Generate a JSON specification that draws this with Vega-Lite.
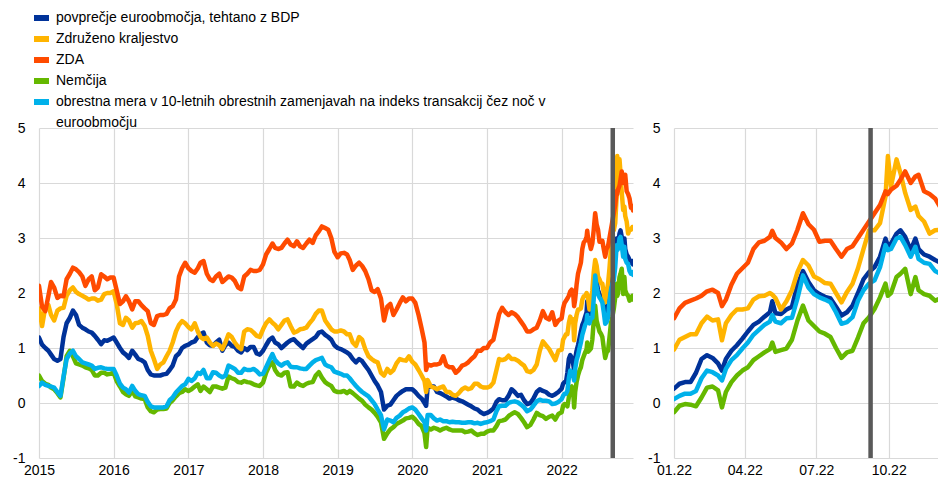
{
  "$schema": "https://vega.github.io/schema/vega-lite/v6.json",
  "background": "white",
  "padding": {"left": 12, "top": 10, "right": 0, "bottom": 0},
  "spacing": 14,
  "config": {
    "view": {"stroke": null},
    "font": "Liberation Sans",
    "axis": {"domain": false, "ticks": false, "grid": true, "gridColor": "#d9d9d9", "gridWidth": 1.2, "labelFont": "Liberation Sans", "labelFontSize": 14, "labelColor": "#000000", "title": null, "labelFlush": false},
    "axisX": {"labelPadding": 5},
    "axisY": {"labelPadding": 14},
    "legend": {"labelFont": "Liberation Sans", "labelFontSize": 14, "labelColor": "#000000"}
  },
  "datasets": {
    "rates": [
      {"d":"2015-01-01","a":1.19,"b":1.72,"c":2.13,"g":0.5,"s":0.31},
      {"d":"2015-01-16","a":1.06,"b":1.4,"c":1.75,"g":0.4,"s":0.37},
      {"d":"2015-02-01","a":1.0,"b":1.75,"c":1.67,"g":0.35,"s":0.33},
      {"d":"2015-02-16","a":0.95,"b":1.78,"c":1.95,"g":0.33,"s":0.31},
      {"d":"2015-03-01","a":0.88,"b":1.6,"c":2.2,"g":0.28,"s":0.3},
      {"d":"2015-03-16","a":0.8,"b":1.5,"c":2.1,"g":0.25,"s":0.28},
      {"d":"2015-04-01","a":0.77,"b":1.68,"c":1.91,"g":0.18,"s":0.2},
      {"d":"2015-04-16","a":0.8,"b":1.72,"c":1.95,"g":0.1,"s":0.13},
      {"d":"2015-05-01","a":1.2,"b":1.73,"c":1.94,"g":0.45,"s":0.48},
      {"d":"2015-05-16","a":1.45,"b":1.95,"c":2.25,"g":0.85,"s":0.8},
      {"d":"2015-06-01","a":1.55,"b":2.05,"c":2.35,"g":0.95,"s":0.9},
      {"d":"2015-06-16","a":1.68,"b":2.1,"c":2.46,"g":0.85,"s":0.95},
      {"d":"2015-07-01","a":1.6,"b":2.02,"c":2.43,"g":0.72,"s":0.85},
      {"d":"2015-07-16","a":1.42,"b":1.98,"c":2.38,"g":0.7,"s":0.8},
      {"d":"2015-08-01","a":1.37,"b":1.95,"c":2.3,"g":0.68,"s":0.74},
      {"d":"2015-08-16","a":1.34,"b":1.92,"c":2.13,"g":0.65,"s":0.72},
      {"d":"2015-09-01","a":1.3,"b":1.88,"c":2.25,"g":0.63,"s":0.7},
      {"d":"2015-09-16","a":1.28,"b":1.9,"c":2.3,"g":0.6,"s":0.68},
      {"d":"2015-10-01","a":1.22,"b":1.9,"c":2.05,"g":0.5,"s":0.62},
      {"d":"2015-10-16","a":1.15,"b":1.86,"c":2.1,"g":0.5,"s":0.64},
      {"d":"2015-11-01","a":1.07,"b":1.88,"c":2.34,"g":0.55,"s":0.65},
      {"d":"2015-11-16","a":1.14,"b":1.98,"c":2.3,"g":0.55,"s":0.63},
      {"d":"2015-12-01","a":1.13,"b":2.0,"c":2.25,"g":0.52,"s":0.62},
      {"d":"2015-12-16","a":1.16,"b":2.0,"c":2.28,"g":0.53,"s":0.62},
      {"d":"2016-01-01","a":1.19,"b":2.03,"c":2.28,"g":0.55,"s":0.62},
      {"d":"2016-01-16","a":1.1,"b":1.8,"c":2.05,"g":0.4,"s":0.5},
      {"d":"2016-02-01","a":1.0,"b":1.45,"c":1.8,"g":0.3,"s":0.35},
      {"d":"2016-02-16","a":0.92,"b":1.42,"c":1.85,"g":0.2,"s":0.28},
      {"d":"2016-03-01","a":0.88,"b":1.55,"c":1.94,"g":0.16,"s":0.25},
      {"d":"2016-03-16","a":0.82,"b":1.5,"c":1.85,"g":0.13,"s":0.19},
      {"d":"2016-04-01","a":0.95,"b":1.37,"c":1.7,"g":0.22,"s":0.31},
      {"d":"2016-04-16","a":0.88,"b":1.45,"c":1.85,"g":0.12,"s":0.22},
      {"d":"2016-05-01","a":0.8,"b":1.46,"c":1.85,"g":0.1,"s":0.16},
      {"d":"2016-05-16","a":0.78,"b":1.49,"c":1.78,"g":0.08,"s":0.14},
      {"d":"2016-06-01","a":0.74,"b":1.4,"c":1.72,"g":0.07,"s":0.13},
      {"d":"2016-06-16","a":0.6,"b":1.22,"c":1.67,"g":-0.08,"s":0.02},
      {"d":"2016-07-01","a":0.52,"b":0.95,"c":1.45,"g":-0.15,"s":-0.06},
      {"d":"2016-07-16","a":0.5,"b":0.8,"c":1.42,"g":-0.17,"s":-0.08},
      {"d":"2016-08-01","a":0.5,"b":0.62,"c":1.58,"g":-0.12,"s":-0.08},
      {"d":"2016-08-16","a":0.5,"b":0.7,"c":1.6,"g":-0.11,"s":-0.08},
      {"d":"2016-09-01","a":0.52,"b":0.74,"c":1.6,"g":-0.11,"s":-0.08},
      {"d":"2016-09-16","a":0.53,"b":0.85,"c":1.62,"g":-0.1,"s":-0.06},
      {"d":"2016-10-01","a":0.6,"b":0.95,"c":1.72,"g":0.0,"s":0.05},
      {"d":"2016-10-16","a":0.68,"b":1.1,"c":1.76,"g":0.05,"s":0.1},
      {"d":"2016-11-01","a":0.85,"b":1.3,"c":1.88,"g":0.12,"s":0.19},
      {"d":"2016-11-16","a":0.9,"b":1.42,"c":2.3,"g":0.18,"s":0.25},
      {"d":"2016-12-01","a":1.0,"b":1.49,"c":2.45,"g":0.2,"s":0.31},
      {"d":"2016-12-16","a":1.04,"b":1.45,"c":2.55,"g":0.25,"s":0.34},
      {"d":"2017-01-01","a":1.06,"b":1.38,"c":2.45,"g":0.22,"s":0.44},
      {"d":"2017-01-16","a":1.1,"b":1.34,"c":2.4,"g":0.25,"s":0.4},
      {"d":"2017-02-01","a":1.12,"b":1.45,"c":2.37,"g":0.3,"s":0.45},
      {"d":"2017-02-16","a":1.2,"b":1.3,"c":2.45,"g":0.34,"s":0.55},
      {"d":"2017-03-01","a":1.25,"b":1.2,"c":2.55,"g":0.22,"s":0.53},
      {"d":"2017-03-16","a":1.28,"b":1.16,"c":2.58,"g":0.3,"s":0.6},
      {"d":"2017-04-01","a":1.1,"b":1.19,"c":2.35,"g":0.25,"s":0.45},
      {"d":"2017-04-16","a":1.05,"b":1.1,"c":2.25,"g":0.2,"s":0.45},
      {"d":"2017-05-01","a":1.04,"b":1.04,"c":2.22,"g":0.3,"s":0.56},
      {"d":"2017-05-16","a":1.1,"b":1.08,"c":2.3,"g":0.3,"s":0.55},
      {"d":"2017-06-01","a":1.15,"b":1.05,"c":2.35,"g":0.28,"s":0.5},
      {"d":"2017-06-16","a":0.95,"b":0.98,"c":2.2,"g":0.26,"s":0.47},
      {"d":"2017-07-01","a":1.05,"b":1.1,"c":2.25,"g":0.28,"s":0.5},
      {"d":"2017-07-16","a":1.1,"b":1.25,"c":2.3,"g":0.48,"s":0.68},
      {"d":"2017-08-01","a":1.04,"b":1.2,"c":2.28,"g":0.45,"s":0.65},
      {"d":"2017-08-16","a":1.02,"b":1.1,"c":2.22,"g":0.43,"s":0.62},
      {"d":"2017-09-01","a":0.95,"b":1.02,"c":2.1,"g":0.38,"s":0.55},
      {"d":"2017-09-16","a":0.92,"b":0.98,"c":2.07,"g":0.37,"s":0.55},
      {"d":"2017-10-01","a":1.0,"b":1.3,"c":2.3,"g":0.4,"s":0.62},
      {"d":"2017-10-16","a":0.96,"b":1.34,"c":2.35,"g":0.38,"s":0.6},
      {"d":"2017-11-01","a":1.02,"b":1.33,"c":2.42,"g":0.37,"s":0.6},
      {"d":"2017-11-16","a":1.02,"b":1.28,"c":2.4,"g":0.34,"s":0.62},
      {"d":"2017-12-01","a":0.9,"b":1.22,"c":2.4,"g":0.32,"s":0.58},
      {"d":"2017-12-16","a":0.88,"b":1.2,"c":2.42,"g":0.31,"s":0.52},
      {"d":"2018-01-01","a":0.95,"b":1.34,"c":2.52,"g":0.37,"s":0.53},
      {"d":"2018-01-16","a":1.05,"b":1.45,"c":2.7,"g":0.55,"s":0.65},
      {"d":"2018-02-01","a":1.15,"b":1.52,"c":2.8,"g":0.68,"s":0.78},
      {"d":"2018-02-16","a":1.19,"b":1.46,"c":2.9,"g":0.74,"s":0.89},
      {"d":"2018-03-01","a":1.1,"b":1.42,"c":2.82,"g":0.6,"s":0.78},
      {"d":"2018-03-16","a":1.07,"b":1.34,"c":2.8,"g":0.52,"s":0.72},
      {"d":"2018-04-01","a":1.0,"b":1.42,"c":2.82,"g":0.5,"s":0.68},
      {"d":"2018-04-16","a":1.05,"b":1.5,"c":2.9,"g":0.55,"s":0.72},
      {"d":"2018-05-01","a":1.1,"b":1.52,"c":2.97,"g":0.56,"s":0.74},
      {"d":"2018-05-16","a":1.14,"b":1.4,"c":2.88,"g":0.3,"s":0.66},
      {"d":"2018-06-01","a":1.16,"b":1.28,"c":2.85,"g":0.3,"s":0.65},
      {"d":"2018-06-16","a":1.1,"b":1.3,"c":2.94,"g":0.37,"s":0.65},
      {"d":"2018-07-01","a":1.05,"b":1.34,"c":2.85,"g":0.33,"s":0.63},
      {"d":"2018-07-16","a":1.0,"b":1.35,"c":2.82,"g":0.31,"s":0.62},
      {"d":"2018-08-01","a":1.08,"b":1.37,"c":2.9,"g":0.35,"s":0.62},
      {"d":"2018-08-16","a":1.12,"b":1.45,"c":2.97,"g":0.37,"s":0.68},
      {"d":"2018-09-01","a":1.16,"b":1.52,"c":2.91,"g":0.38,"s":0.74},
      {"d":"2018-09-16","a":1.2,"b":1.62,"c":3.05,"g":0.5,"s":0.78},
      {"d":"2018-10-01","a":1.28,"b":1.68,"c":3.12,"g":0.56,"s":0.8},
      {"d":"2018-10-16","a":1.3,"b":1.68,"c":3.21,"g":0.46,"s":0.82},
      {"d":"2018-11-01","a":1.24,"b":1.5,"c":3.18,"g":0.38,"s":0.7},
      {"d":"2018-11-16","a":1.2,"b":1.42,"c":3.15,"g":0.34,"s":0.67},
      {"d":"2018-12-01","a":1.15,"b":1.34,"c":3.0,"g":0.31,"s":0.65},
      {"d":"2018-12-16","a":1.05,"b":1.3,"c":2.75,"g":0.22,"s":0.57},
      {"d":"2019-01-01","a":1.0,"b":1.3,"c":2.65,"g":0.2,"s":0.55},
      {"d":"2019-01-16","a":0.98,"b":1.32,"c":2.72,"g":0.2,"s":0.53},
      {"d":"2019-02-01","a":0.95,"b":1.3,"c":2.73,"g":0.22,"s":0.5},
      {"d":"2019-02-16","a":0.92,"b":1.25,"c":2.7,"g":0.18,"s":0.5},
      {"d":"2019-03-01","a":0.88,"b":1.25,"c":2.6,"g":0.22,"s":0.45},
      {"d":"2019-03-16","a":0.8,"b":1.1,"c":2.42,"g":0.18,"s":0.38},
      {"d":"2019-04-01","a":0.74,"b":1.04,"c":2.5,"g":0.13,"s":0.31},
      {"d":"2019-04-16","a":0.8,"b":1.2,"c":2.55,"g":0.08,"s":0.25},
      {"d":"2019-05-01","a":0.76,"b":1.15,"c":2.49,"g":0.04,"s":0.2},
      {"d":"2019-05-16","a":0.68,"b":0.98,"c":2.4,"g":-0.03,"s":0.16},
      {"d":"2019-06-01","a":0.6,"b":0.85,"c":2.25,"g":-0.08,"s":0.12},
      {"d":"2019-06-16","a":0.5,"b":0.8,"c":2.05,"g":-0.12,"s":0.05},
      {"d":"2019-07-01","a":0.4,"b":0.76,"c":2.02,"g":-0.18,"s":-0.02},
      {"d":"2019-07-16","a":0.32,"b":0.74,"c":2.07,"g":-0.25,"s":-0.12},
      {"d":"2019-08-01","a":0.2,"b":0.55,"c":1.9,"g":-0.35,"s":-0.22},
      {"d":"2019-08-16","a":-0.12,"b":0.5,"c":1.5,"g":-0.65,"s":-0.48},
      {"d":"2019-09-01","a":-0.05,"b":0.62,"c":1.75,"g":-0.55,"s":-0.3},
      {"d":"2019-09-16","a":-0.03,"b":0.55,"c":1.8,"g":-0.48,"s":-0.32},
      {"d":"2019-10-01","a":0.05,"b":0.6,"c":1.6,"g":-0.44,"s":-0.35},
      {"d":"2019-10-16","a":0.13,"b":0.72,"c":1.7,"g":-0.38,"s":-0.27},
      {"d":"2019-11-01","a":0.18,"b":0.8,"c":1.82,"g":-0.35,"s":-0.23},
      {"d":"2019-11-16","a":0.22,"b":0.78,"c":1.92,"g":-0.32,"s":-0.17},
      {"d":"2019-12-01","a":0.25,"b":0.77,"c":1.85,"g":-0.28,"s":-0.14},
      {"d":"2019-12-16","a":0.25,"b":0.85,"c":1.9,"g":-0.27,"s":-0.1},
      {"d":"2020-01-01","a":0.25,"b":0.75,"c":1.9,"g":-0.25,"s":-0.08},
      {"d":"2020-01-16","a":0.2,"b":0.7,"c":1.82,"g":-0.3,"s":-0.12},
      {"d":"2020-02-01","a":0.13,"b":0.6,"c":1.6,"g":-0.38,"s":-0.2},
      {"d":"2020-02-16","a":0.08,"b":0.5,"c":1.35,"g":-0.42,"s":-0.28},
      {"d":"2020-03-01","a":0.0,"b":0.4,"c":1.1,"g":-0.55,"s":-0.35},
      {"d":"2020-03-09","a":-0.05,"b":0.2,"c":0.6,"g":-0.8,"s":-0.5},
      {"d":"2020-03-16","a":0.28,"b":0.42,"c":0.7,"g":-0.45,"s":-0.22},
      {"d":"2020-04-01","a":0.3,"b":0.3,"c":0.68,"g":-0.48,"s":-0.22},
      {"d":"2020-04-16","a":0.3,"b":0.28,"c":0.7,"g":-0.45,"s":-0.28},
      {"d":"2020-05-01","a":0.2,"b":0.25,"c":0.7,"g":-0.47,"s":-0.32},
      {"d":"2020-05-16","a":0.18,"b":0.28,"c":0.72,"g":-0.5,"s":-0.3},
      {"d":"2020-06-01","a":0.15,"b":0.3,"c":0.85,"g":-0.47,"s":-0.33},
      {"d":"2020-06-16","a":0.12,"b":0.2,"c":0.68,"g":-0.45,"s":-0.33},
      {"d":"2020-07-01","a":0.08,"b":0.2,"c":0.65,"g":-0.48,"s":-0.35},
      {"d":"2020-07-16","a":0.1,"b":0.15,"c":0.65,"g":-0.5,"s":-0.34},
      {"d":"2020-08-01","a":0.08,"b":0.13,"c":0.55,"g":-0.5,"s":-0.35},
      {"d":"2020-08-16","a":0.05,"b":0.18,"c":0.6,"g":-0.5,"s":-0.35},
      {"d":"2020-09-01","a":0.03,"b":0.25,"c":0.68,"g":-0.5,"s":-0.36},
      {"d":"2020-09-16","a":0.0,"b":0.28,"c":0.7,"g":-0.53,"s":-0.36},
      {"d":"2020-10-01","a":-0.03,"b":0.25,"c":0.74,"g":-0.52,"s":-0.35},
      {"d":"2020-10-16","a":-0.06,"b":0.27,"c":0.8,"g":-0.5,"s":-0.35},
      {"d":"2020-11-01","a":-0.1,"b":0.35,"c":0.85,"g":-0.55,"s":-0.37},
      {"d":"2020-11-16","a":-0.12,"b":0.35,"c":0.95,"g":-0.58,"s":-0.36},
      {"d":"2020-12-01","a":-0.17,"b":0.3,"c":0.95,"g":-0.56,"s":-0.38},
      {"d":"2020-12-16","a":-0.2,"b":0.28,"c":1.0,"g":-0.56,"s":-0.36},
      {"d":"2021-01-01","a":-0.18,"b":0.28,"c":1.0,"g":-0.52,"s":-0.35},
      {"d":"2021-01-16","a":-0.15,"b":0.3,"c":1.1,"g":-0.5,"s":-0.33},
      {"d":"2021-02-01","a":-0.1,"b":0.37,"c":1.15,"g":-0.5,"s":-0.3},
      {"d":"2021-02-16","a":0.02,"b":0.6,"c":1.4,"g":-0.42,"s":-0.15},
      {"d":"2021-03-01","a":0.07,"b":0.8,"c":1.62,"g":-0.33,"s":-0.06},
      {"d":"2021-03-16","a":0.05,"b":0.78,"c":1.73,"g":-0.32,"s":-0.05},
      {"d":"2021-04-01","a":0.05,"b":0.8,"c":1.65,"g":-0.3,"s":-0.05},
      {"d":"2021-04-16","a":0.13,"b":0.86,"c":1.6,"g":-0.24,"s":0.0},
      {"d":"2021-05-01","a":0.25,"b":0.8,"c":1.65,"g":-0.2,"s":0.02},
      {"d":"2021-05-16","a":0.2,"b":0.8,"c":1.62,"g":-0.17,"s":0.03},
      {"d":"2021-06-01","a":0.13,"b":0.77,"c":1.56,"g":-0.2,"s":0.01},
      {"d":"2021-06-16","a":0.15,"b":0.72,"c":1.48,"g":-0.27,"s":-0.03},
      {"d":"2021-07-01","a":0.05,"b":0.68,"c":1.4,"g":-0.35,"s":-0.08},
      {"d":"2021-07-16","a":-0.02,"b":0.58,"c":1.3,"g":-0.44,"s":-0.15},
      {"d":"2021-08-01","a":0.0,"b":0.56,"c":1.3,"g":-0.4,"s":-0.12},
      {"d":"2021-08-16","a":0.08,"b":0.6,"c":1.34,"g":-0.3,"s":-0.05},
      {"d":"2021-09-01","a":0.2,"b":0.7,"c":1.37,"g":-0.18,"s":0.03},
      {"d":"2021-09-16","a":0.25,"b":0.95,"c":1.5,"g":-0.22,"s":0.06},
      {"d":"2021-10-01","a":0.22,"b":1.12,"c":1.67,"g":-0.24,"s":0.04},
      {"d":"2021-10-16","a":0.2,"b":1.05,"c":1.55,"g":-0.29,"s":0.04},
      {"d":"2021-11-01","a":0.15,"b":0.98,"c":1.52,"g":-0.25,"s":0.03},
      {"d":"2021-11-16","a":0.13,"b":0.88,"c":1.65,"g":-0.23,"s":-0.02},
      {"d":"2021-12-01","a":0.16,"b":0.78,"c":1.42,"g":-0.3,"s":-0.01},
      {"d":"2021-12-16","a":0.2,"b":0.95,"c":1.5,"g":-0.2,"s":0.02},
      {"d":"2022-01-01","a":0.26,"b":0.97,"c":1.54,"g":-0.17,"s":0.07},
      {"d":"2022-01-08","a":0.35,"b":1.15,"c":1.72,"g":-0.05,"s":0.13},
      {"d":"2022-01-15","a":0.38,"b":1.2,"c":1.82,"g":-0.02,"s":0.17},
      {"d":"2022-01-22","a":0.38,"b":1.25,"c":1.86,"g":-0.03,"s":0.17},
      {"d":"2022-01-29","a":0.55,"b":1.25,"c":1.9,"g":-0.06,"s":0.22},
      {"d":"2022-02-05","a":0.8,"b":1.45,"c":1.95,"g":0.1,"s":0.45},
      {"d":"2022-02-12","a":0.87,"b":1.57,"c":2.03,"g":0.28,"s":0.59},
      {"d":"2022-02-19","a":0.82,"b":1.5,"c":2.06,"g":0.3,"s":0.56},
      {"d":"2022-02-26","a":0.72,"b":1.52,"c":2.0,"g":0.23,"s":0.5},
      {"d":"2022-03-03","a":0.59,"b":1.14,"c":1.76,"g":-0.08,"s":0.41},
      {"d":"2022-03-08","a":0.8,"b":1.45,"c":1.88,"g":0.2,"s":0.62},
      {"d":"2022-03-15","a":0.95,"b":1.6,"c":2.15,"g":0.38,"s":0.78},
      {"d":"2022-03-22","a":1.05,"b":1.7,"c":2.35,"g":0.5,"s":0.87},
      {"d":"2022-03-29","a":1.17,"b":1.7,"c":2.45,"g":0.59,"s":0.99},
      {"d":"2022-04-05","a":1.3,"b":1.72,"c":2.55,"g":0.65,"s":1.1},
      {"d":"2022-04-12","a":1.42,"b":1.88,"c":2.8,"g":0.78,"s":1.24},
      {"d":"2022-04-19","a":1.48,"b":1.94,"c":2.92,"g":0.85,"s":1.33},
      {"d":"2022-04-26","a":1.57,"b":1.95,"c":2.95,"g":0.92,"s":1.42},
      {"d":"2022-05-03","a":1.65,"b":2.0,"c":3.02,"g":0.98,"s":1.48},
      {"d":"2022-05-06","a":1.85,"b":1.97,"c":3.13,"g":1.1,"s":1.6},
      {"d":"2022-05-10","a":1.63,"b":1.91,"c":3.0,"g":0.93,"s":1.48},
      {"d":"2022-05-17","a":1.62,"b":1.7,"c":2.92,"g":0.96,"s":1.45},
      {"d":"2022-05-24","a":1.7,"b":1.85,"c":2.8,"g":0.99,"s":1.54},
      {"d":"2022-05-31","a":1.75,"b":2.05,"c":2.9,"g":1.15,"s":1.55},
      {"d":"2022-06-07","a":2.15,"b":2.38,"c":3.15,"g":1.5,"s":1.9},
      {"d":"2022-06-14","a":2.4,"b":2.6,"c":3.45,"g":1.77,"s":2.32},
      {"d":"2022-06-21","a":2.2,"b":2.5,"c":3.25,"g":1.5,"s":2.1},
      {"d":"2022-06-28","a":2.05,"b":2.3,"c":3.15,"g":1.4,"s":1.98},
      {"d":"2022-07-05","a":1.98,"b":2.25,"c":2.93,"g":1.3,"s":1.92},
      {"d":"2022-07-12","a":1.93,"b":2.18,"c":2.95,"g":1.26,"s":1.88},
      {"d":"2022-07-19","a":1.9,"b":2.17,"c":2.95,"g":1.2,"s":1.83},
      {"d":"2022-07-26","a":1.75,"b":2.0,"c":2.8,"g":1.0,"s":1.65},
      {"d":"2022-08-02","a":1.59,"b":1.83,"c":2.66,"g":0.82,"s":1.44},
      {"d":"2022-08-09","a":1.65,"b":2.02,"c":2.8,"g":0.92,"s":1.47},
      {"d":"2022-08-16","a":1.77,"b":2.17,"c":2.85,"g":0.95,"s":1.56},
      {"d":"2022-08-23","a":2.0,"b":2.45,"c":3.0,"g":1.19,"s":1.86},
      {"d":"2022-08-30","a":2.25,"b":2.8,"c":3.15,"g":1.45,"s":2.05},
      {"d":"2022-09-06","a":2.38,"b":3.14,"c":3.3,"g":1.56,"s":2.17},
      {"d":"2022-09-13","a":2.47,"b":3.14,"c":3.45,"g":1.71,"s":2.23},
      {"d":"2022-09-20","a":2.66,"b":3.27,"c":3.6,"g":1.92,"s":2.47},
      {"d":"2022-09-27","a":2.99,"b":3.76,"c":3.85,"g":2.17,"s":2.87},
      {"d":"2022-09-30","a":2.85,"b":4.49,"c":3.8,"g":1.95,"s":2.78},
      {"d":"2022-10-04","a":2.9,"b":3.94,"c":3.88,"g":2.0,"s":2.8},
      {"d":"2022-10-11","a":3.08,"b":4.43,"c":3.95,"g":2.29,"s":2.99},
      {"d":"2022-10-16","a":3.14,"b":4.18,"c":4.06,"g":2.35,"s":3.02},
      {"d":"2022-10-22","a":3.02,"b":3.82,"c":4.21,"g":2.44,"s":2.87},
      {"d":"2022-10-29","a":2.78,"b":3.51,"c":4.0,"g":1.98,"s":2.66},
      {"d":"2022-11-04","a":2.99,"b":3.57,"c":4.12,"g":2.29,"s":2.84},
      {"d":"2022-11-08","a":2.8,"b":3.4,"c":4.15,"g":2.05,"s":2.62},
      {"d":"2022-11-15","a":2.7,"b":3.3,"c":3.85,"g":1.98,"s":2.55},
      {"d":"2022-11-22","a":2.66,"b":3.08,"c":3.8,"g":1.95,"s":2.53},
      {"d":"2022-11-29","a":2.6,"b":3.14,"c":3.72,"g":1.86,"s":2.4},
      {"d":"2022-12-06","a":2.55,"b":3.15,"c":3.55,"g":1.9,"s":2.35},
      {"d":"2022-12-13","a":2.58,"b":3.2,"c":3.58,"g":1.95,"s":2.38},
      {"d":"2022-12-16","a":2.52,"b":3.18,"c":3.5,"g":1.88,"s":2.33}
    ]
  },
  "data": {"name": "rates"},
  "transform": [{"fold": ["a", "b", "c", "g", "s"], "as": ["k", "v"]}],
  "hconcat": [
    {
      "width": 594,
      "height": 330,
      "layer": [
        {
          "mark": {"type": "line", "strokeWidth": 4.5, "strokeJoin": "round", "strokeCap": "round", "clip": true},
          "encoding": {
            "x": {"field": "d", "type": "temporal",
                  "scale": {"type": "utc", "domain": [{"year": 2015, "month": 1, "date": 1, "utc": true}, {"year": 2022, "month": 12, "date": 16, "utc": true}]},
                  "axis": {"format": "%Y", "values": [
                    {"year": 2015, "month": 1, "date": 1, "utc": true},
                    {"year": 2016, "month": 1, "date": 1, "utc": true},
                    {"year": 2017, "month": 1, "date": 1, "utc": true},
                    {"year": 2018, "month": 1, "date": 1, "utc": true},
                    {"year": 2019, "month": 1, "date": 1, "utc": true},
                    {"year": 2020, "month": 1, "date": 1, "utc": true},
                    {"year": 2021, "month": 1, "date": 1, "utc": true},
                    {"year": 2022, "month": 1, "date": 1, "utc": true}]}},
            "y": {"field": "v", "type": "quantitative", "scale": {"domain": [-1, 5], "nice": false, "zero": false},
                  "axis": {"values": [-1, 0, 1, 2, 3, 4, 5], "labelExpr": "'' + datum.value"}},
            "color": {"field": "k", "type": "nominal",
                      "scale": {"domain": ["a", "b", "c", "g", "s", "z"], "range": ["#003299", "#FFB400", "#FF4B00", "#65B800", "#00B1EA", "rgba(255,255,255,0)"]},
                      "legend": {"orient": "none", "legendX": -8, "legendY": -118, "direction": "vertical", "title": null, "clipHeight": 16,
                                 "symbolType": "stroke", "symbolSize": 225, "symbolStrokeWidth": 6, "labelLimit": 900, "rowPadding": 5, "labelOffset": 4, "padding": 0,
                                 "labelExpr": "datum.label == 'a' ? 'povprečje euroobmočja, tehtano z BDP' : datum.label == 'b' ? 'Združeno kraljestvo' : datum.label == 'c' ? 'ZDA' : datum.label == 'g' ? 'Nemčija' : datum.label == 's' ? 'obrestna mera v 10-letnih obrestnih zamenjavah na indeks transakcij čez noč v' : 'euroobmočju'"}}
          }
        },
        {
          "data": {"values": [{"d": "2022-09-08"}]},
          "mark": {"type": "rule", "color": "#595959", "strokeWidth": 4.5},
          "encoding": {"x": {"field": "d", "type": "temporal"}}
        }
      ]
    },
    {
      "width": 265,
      "height": 330,
      "layer": [
        {
          "mark": {"type": "line", "strokeWidth": 4.5, "strokeJoin": "round", "strokeCap": "round", "clip": true},
          "encoding": {
            "x": {"field": "d", "type": "temporal",
                  "scale": {"type": "utc", "domain": [{"year": 2022, "month": 1, "date": 1, "utc": true}, {"year": 2022, "month": 12, "date": 4, "utc": true}]},
                  "axis": {"format": "%m.%y", "values": [
                    {"year": 2022, "month": 1, "date": 1, "utc": true},
                    {"year": 2022, "month": 4, "date": 1, "utc": true},
                    {"year": 2022, "month": 7, "date": 1, "utc": true},
                    {"year": 2022, "month": 10, "date": 1, "utc": true}]}},
            "y": {"field": "v", "type": "quantitative", "scale": {"domain": [-1, 5], "nice": false, "zero": false},
                  "axis": {"values": [-1, 0, 1, 2, 3, 4, 5], "labelExpr": "'' + datum.value"}},
            "color": {"field": "k", "type": "nominal",
                      "scale": {"domain": ["a", "b", "c", "g", "s", "z"], "range": ["#003299", "#FFB400", "#FF4B00", "#65B800", "#00B1EA", "rgba(255,255,255,0)"]},
                      "legend": {"orient": "none", "legendX": -8, "legendY": -118, "direction": "vertical", "title": null, "clipHeight": 16,
                                 "symbolType": "stroke", "symbolSize": 225, "symbolStrokeWidth": 6, "labelLimit": 900, "rowPadding": 5, "labelOffset": 4, "padding": 0,
                                 "labelExpr": "datum.label == 'a' ? 'povprečje euroobmočja, tehtano z BDP' : datum.label == 'b' ? 'Združeno kraljestvo' : datum.label == 'c' ? 'ZDA' : datum.label == 'g' ? 'Nemčija' : datum.label == 's' ? 'obrestna mera v 10-letnih obrestnih zamenjavah na indeks transakcij čez noč v' : 'euroobmočju'"}}
          }
        },
        {
          "data": {"values": [{"d": "2022-09-08"}]},
          "mark": {"type": "rule", "color": "#595959", "strokeWidth": 4.5},
          "encoding": {"x": {"field": "d", "type": "temporal"}}
        }
      ]
    }
  ]
}
